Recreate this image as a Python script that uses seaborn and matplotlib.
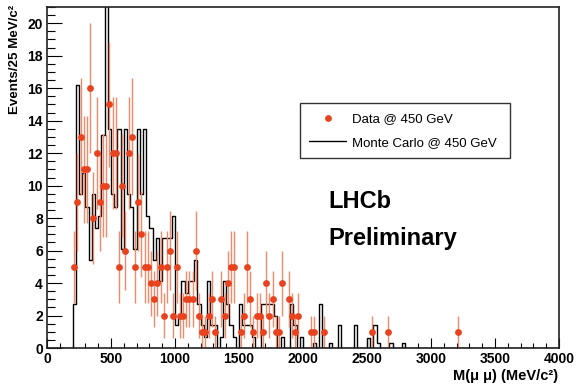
import numpy as np
import pandas as pd
import matplotlib
matplotlib.use("Agg")
import matplotlib.pyplot as plt
from matplotlib.ticker import MultipleLocator
import seaborn as sns

sns.set_theme(style="ticks")
plt.rcParams['font.family'] = ['Liberation Sans', 'DejaVu Sans']
plt.rcParams.update({"text.color": "black", "axes.labelcolor": "black",
                     "xtick.color": "black", "ytick.color": "black"})

# data points (bin centre in MeV/c2, events per 25 MeV bin)
data_mass = [212.5, 237.5, 262.5, 287.5, 312.5, 337.5, 362.5, 387.5, 412.5, 437.5,
             462.5, 487.5, 512.5, 537.5, 562.5, 587.5, 612.5, 637.5, 662.5, 687.5,
             712.5, 737.5, 762.5, 787.5, 812.5, 837.5, 862.5, 887.5, 912.5, 937.5,
             962.5, 987.5, 1012.5, 1037.5, 1062.5, 1087.5, 1112.5, 1137.5, 1162.5, 1187.5,
             1212.5, 1237.5, 1262.5, 1287.5, 1312.5, 1362.5, 1387.5, 1412.5, 1437.5, 1462.5,
             1512.5, 1537.5, 1562.5, 1587.5, 1612.5, 1637.5, 1662.5, 1687.5, 1712.5,
             1737.5, 1762.5, 1787.5, 1812.5, 1837.5, 1887.5, 1912.5, 1937.5, 1962.5,
             2062.5, 2087.5, 2162.5, 2537.5, 2662.5, 3212.5]
data_counts = [5, 9, 13, 11, 11, 16, 8, 12, 9, 10,
               10, 15, 12, 12, 5, 10, 6, 12, 13, 5,
               9, 7, 5, 5, 4, 3, 4, 5, 2, 5,
               6, 2, 5, 2, 2, 3, 3, 3, 6, 2,
               1, 1, 2, 3, 1, 3, 2, 4, 5, 5,
               1, 2, 5, 3, 1, 2, 2, 1, 4,
               2, 3, 1, 1, 4, 3, 2, 1, 2,
               1, 1, 1, 1, 1, 1]

# Monte Carlo, 25 MeV bins starting at 200 MeV
mc_values = [2.7, 16.2, 9.5, 10.8, 8.7, 5.4, 9.5, 7.4, 8.1, 13.1,
             22.0, 13.5, 9.5, 8.7, 13.5, 6.1, 13.5, 9.5, 8.7, 6.1,
             13.5, 9.5, 13.5, 8.1, 7.4, 5.4, 6.8, 4.1, 6.8, 6.8,
             6.8, 8.1, 1.4, 2.0, 4.1, 3.4, 4.1, 4.1, 5.4, 2.7,
             1.4, 0.7, 4.1, 1.4, 1.4, 0.0, 0.7, 4.1, 2.7, 1.4,
             0.7, 0.0, 2.7, 1.4, 1.4, 1.4, 0.7, 0.0, 0.0, 2.7,
             2.7, 2.7, 2.7, 2.0, 0.0, 0.7, 0.0, 0.0, 2.7, 1.4,
             0.0, 0.7, 0.0, 0.0, 0.0, 0.3, 0.0, 2.7, 0.0, 0.0,
             0.3, 0.0, 0.0, 1.4, 0.0, 0.0, 0.0, 0.0, 1.4, 0.0,
             0.0, 0.0, 0.6, 0.0, 1.4, 0.3, 0.0, 0.0, 0.0, 0.3,
             0.0, 0.0, 0.0, 0.3]
bin_width = 25
mc_low = 200 + bin_width * np.arange(len(mc_values))
mc = pd.DataFrame({"mass": mc_low + bin_width / 2, "events": mc_values})

fig = plt.figure(figsize=(5.78, 3.85), dpi=100)
ax = fig.add_axes([47 / 578, 37 / 385, 512 / 578, 341 / 385])

sns.histplot(data=mc, x="mass", weights="events", binwidth=bin_width,
             binrange=(0, 4000), element="step", fill=False, color="black",
             linewidth=1.0, ax=ax, label="Monte Carlo @ 450 GeV")
ax.errorbar(data_mass, data_counts, yerr=np.sqrt(data_counts), fmt="none",
            ecolor="#f08a6a", elinewidth=1.0, zorder=2)
sns.scatterplot(x=data_mass, y=data_counts, color="#e8421e", s=24, linewidth=0,
                ax=ax, label="Data @ 450 GeV", zorder=3)

ax.set_xlim(0, 4000)
ax.set_ylim(0, 21)
ax.xaxis.set_major_locator(MultipleLocator(500))
ax.xaxis.set_minor_locator(MultipleLocator(100))
ax.yaxis.set_major_locator(MultipleLocator(2))
ax.yaxis.set_minor_locator(MultipleLocator(0.5))
ax.tick_params(which="both", direction="in", top=False, right=False, color="black",
               width=0.8, labelsize=10)
ax.tick_params(axis="x", which="major", length=7.2, pad=3)
ax.tick_params(axis="x", which="minor", length=3.6)
ax.tick_params(axis="y", which="major", length=10.8, pad=3)
ax.tick_params(axis="y", which="minor", length=5.4)
for lab in ax.get_xticklabels() + ax.get_yticklabels():
    lab.set_fontweight("bold")
for sp in ax.spines.values():
    sp.set_color("#222222")
    sp.set_linewidth(1.2)

ax.set_xlabel("M(μ μ) (MeV/c²)", fontsize=10.5, fontweight="bold", loc="right")
ax.xaxis.set_label_coords(0.998, -0.062)
ax.set_ylabel("Events/25 MeV/c²", fontsize=9.6, fontweight="bold", loc="top")
ax.yaxis.set_label_coords(-0.051, 1.006)

handles, labels = ax.get_legend_handles_labels()
order = [labels.index("Data @ 450 GeV"), labels.index("Monte Carlo @ 450 GeV")]
leg = ax.legend([handles[i] for i in order], [labels[i] for i in order],
                loc="upper left", bbox_to_anchor=(0.494, 0.718, 0.41, 0.0),
                mode="expand", borderaxespad=0, fontsize=9.5, frameon=True,
                fancybox=False, edgecolor="#333333", framealpha=1,
                handlelength=2.8, handletextpad=0.45, borderpad=0.7,
                labelspacing=0.9)
leg.get_frame().set_linewidth(1.0)

fig.text(328 / 578, 1 - 208 / 385, "LHCb", fontsize=17, fontweight="bold",
         va="baseline")
fig.text(328 / 578, 1 - 245 / 385, "Preliminary", fontsize=17, fontweight="bold",
         va="baseline")

fig.savefig("out.png", dpi=100)
